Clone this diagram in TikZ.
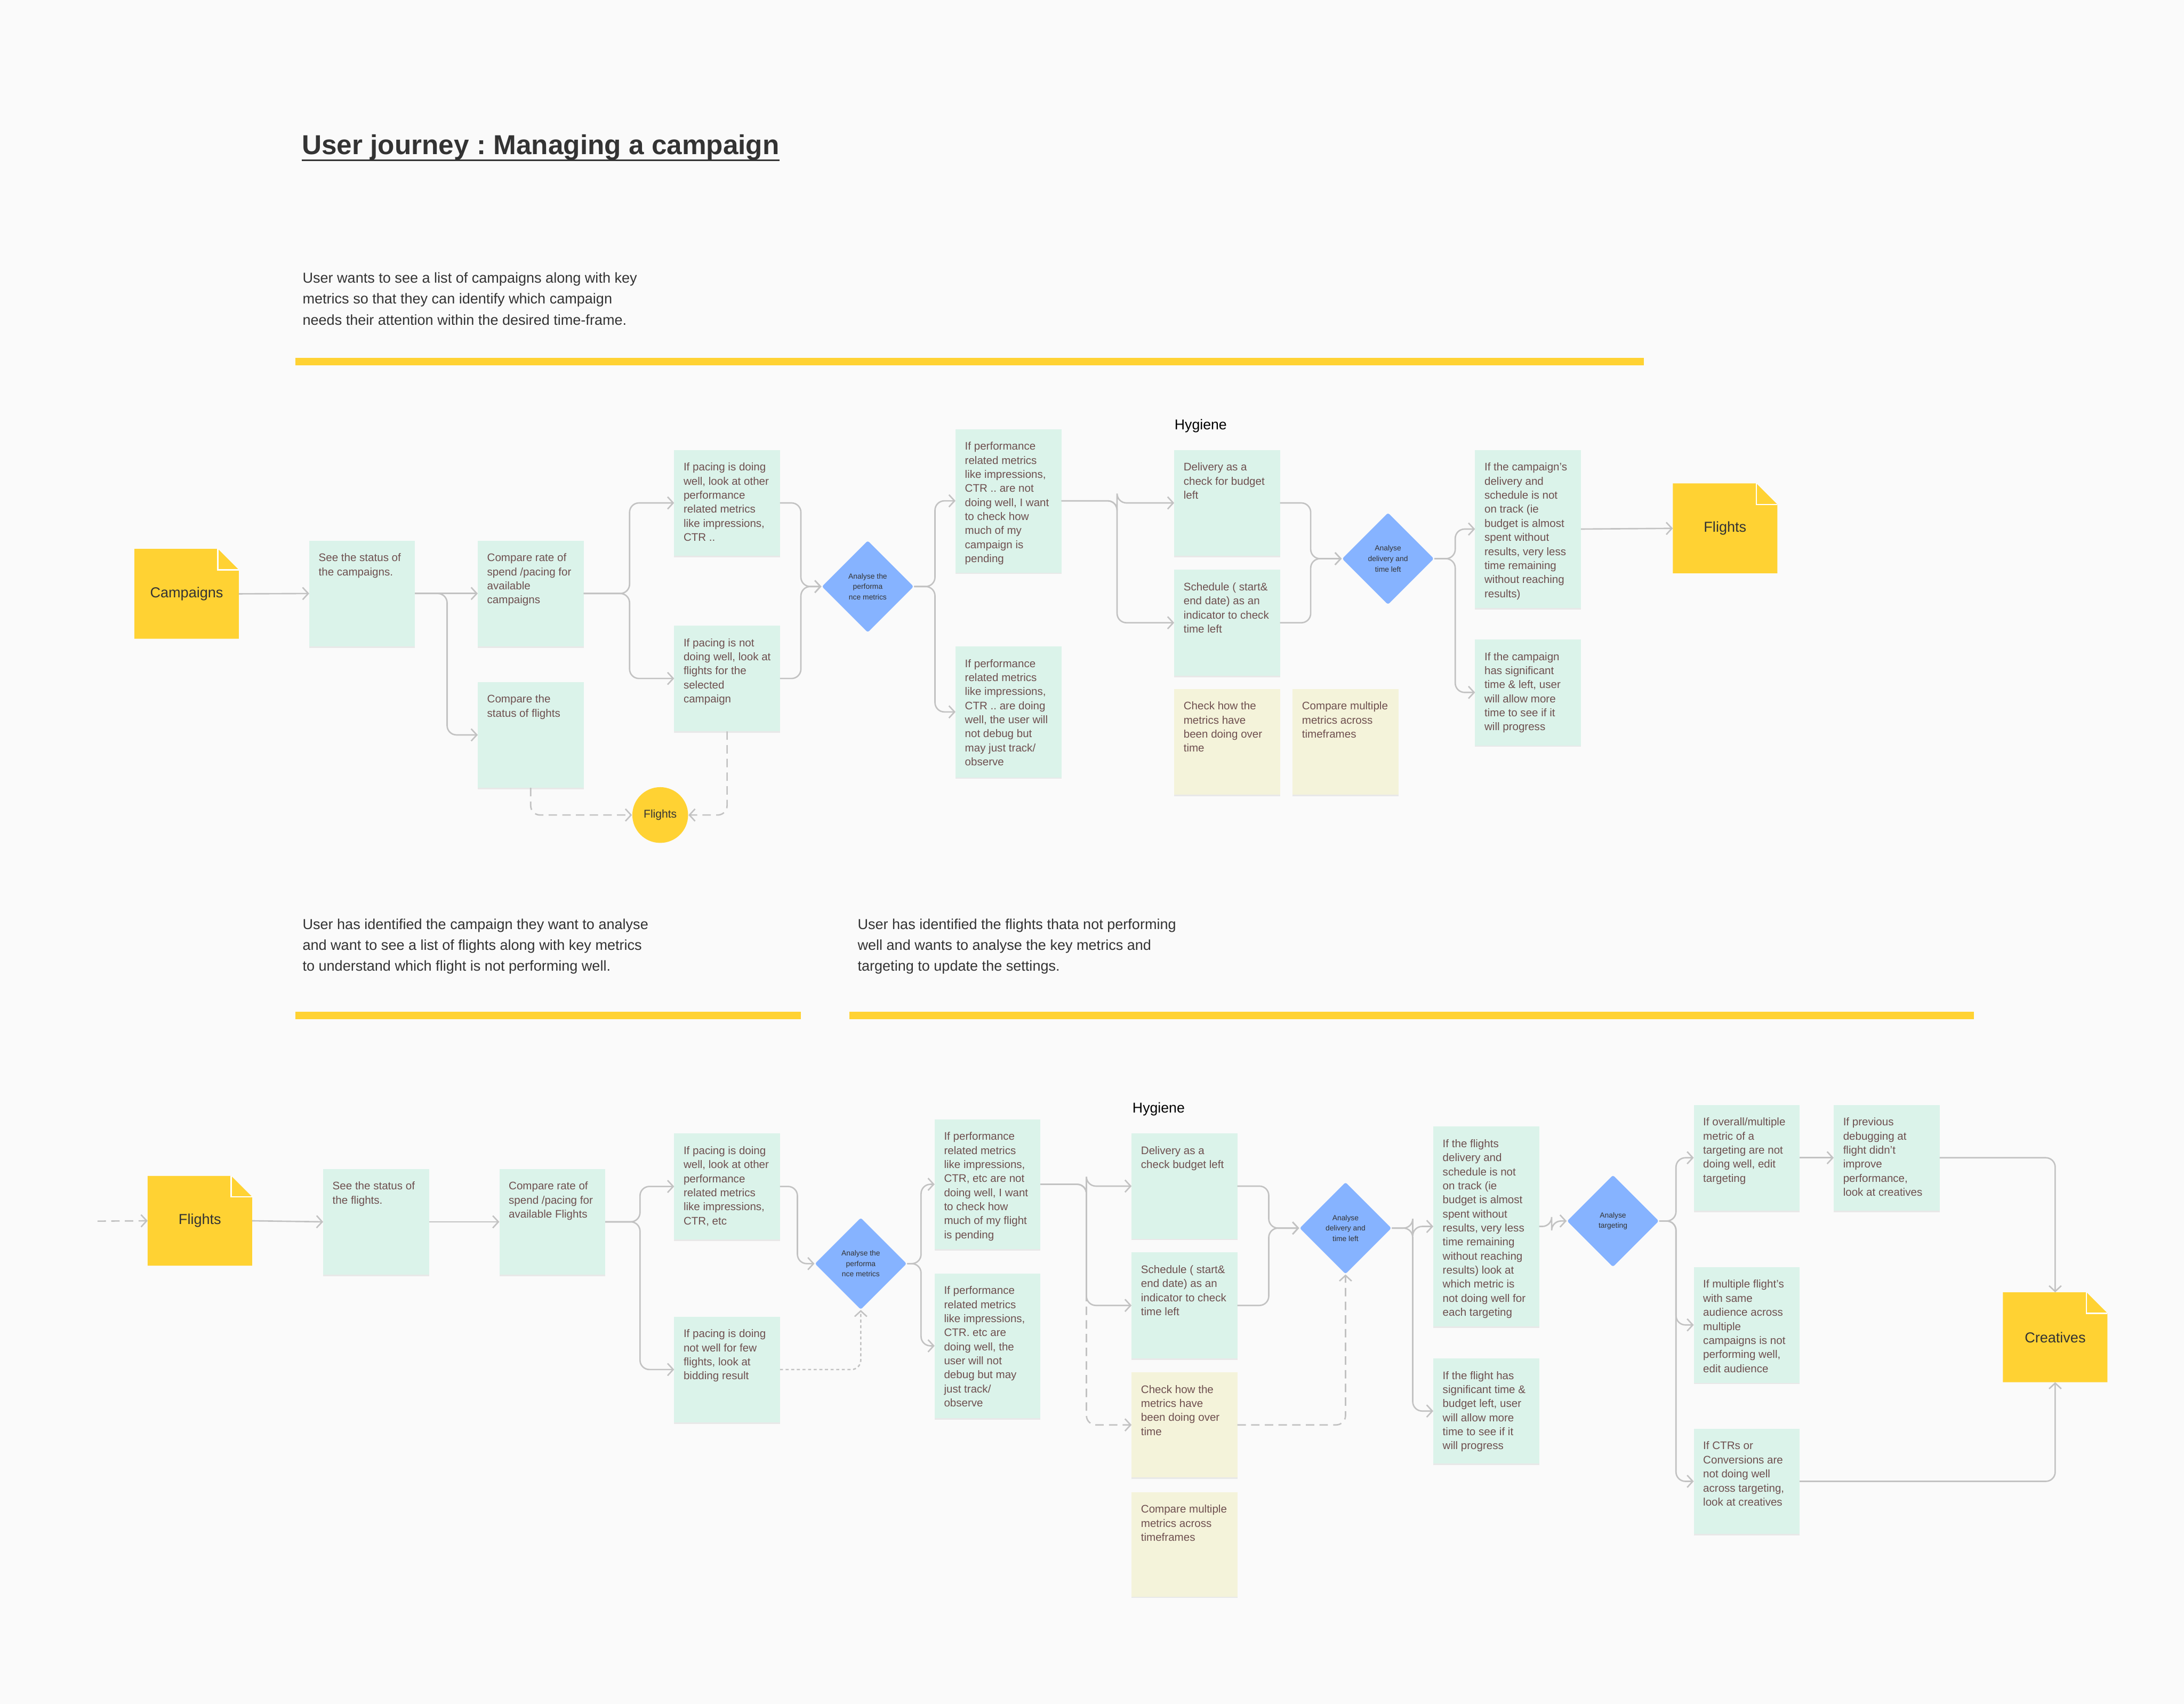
\documentclass[tikz,border=0pt]{standalone}
\usepackage{fontspec}
\setmainfont{Liberation Sans}
\usepackage{xcolor}
\usetikzlibrary{arrows.meta, shapes.geometric, shadows, positioning, calc}

\definecolor{pagebg}{HTML}{FAFAFA}
\definecolor{stickygreen}{HTML}{DBF3EA}
\definecolor{stickycream}{HTML}{F4F3DA}
\definecolor{docyellow}{HTML}{FFD233}
\definecolor{diamondblue}{HTML}{86B3FF}
\definecolor{notetext}{HTML}{6E4F4F}
\definecolor{ink}{HTML}{333333}
\definecolor{wire}{HTML}{C2C2C2}

\newcommand{\px}{0.7432pt}
\newcommand{\notesize}{\fontsize{5.85}{7.5}\selectfont}
\newcommand{\blurbsize}{\fontsize{7.7}{11.15}\selectfont}
\newcommand{\hygsize}{\fontsize{7.6}{9}\selectfont}
\newcommand{\docsize}{\fontsize{7.7}{9}\selectfont}
\newcommand{\diasize}{\fontsize{3.95}{5.6}\selectfont}
\newcommand{\titlesize}{\fontsize{14.6}{17}\selectfont\bfseries}

% sticky note: [style]{name}{x}{y}{height}{text}
\newcommand{\sticky}[6][sticky]{%
  \node[#1, minimum height=#5*\px] (#2) at (#3,#4) {};
  \node[stickytxt] (#2-txt) at ([shift={(6.5,9)}]#2.north west) {#6};}

\begin{document}
\frenchspacing
\begin{tikzpicture}[x=0.026122cm, y=-0.026122cm,
  sticky/.style={anchor=north west, fill=stickygreen, minimum width=76*\px, inner sep=0pt, outer sep=0pt,
                 drop shadow={shadow xshift=0pt, shadow yshift=-0.8pt, opacity=0.14}},
  cream/.style={sticky, fill=stickycream},
  stickytxt/.style={anchor=north west, inner sep=0pt, align=left, text=notetext, font=\notesize},
  docnode/.style={anchor=north west, minimum width=75*\px, minimum height=64.5*\px, inner sep=0pt, outer sep=0pt,
    fill=pagebg, text=ink, font=\docsize,
    path picture={
      \fill[docyellow] (path picture bounding box.south west)
        -- (path picture bounding box.north west)
        -- ([xshift=-11.2pt]path picture bounding box.north east)
        -- ([yshift=-11.2pt]path picture bounding box.north east)
        -- (path picture bounding box.south east) -- cycle;
      \filldraw[fill=docyellow, draw=white, line width=0.7pt]
        ([xshift=-11.2pt]path picture bounding box.north east)
        -- ([xshift=-11.2pt, yshift=-11.2pt]path picture bounding box.north east)
        -- ([yshift=-11.2pt]path picture bounding box.north east);
    }},
  decision/.style={diamond, aspect=1, fill=diamondblue, minimum width=66*\px, minimum height=66*\px,
                   inner sep=0pt, rounded corners=1pt, align=center, text=ink, font=\diasize},
  bubble/.style={circle, fill=docyellow, minimum size=40*\px, inner sep=0pt, text=ink, font=\fontsize{6}{7}\selectfont},
  wireline/.style={draw=wire, line width=0.75pt, rounded corners=5pt, -{Straight Barb[length=3pt, width=6.5pt]}},
  dashwire/.style={wireline, dash pattern=on 4.5pt off 2.8pt},
  dotwire/.style={wireline, dash pattern=on 1.6pt off 1.4pt},
  band/.style={draw=docyellow, line width=3.8pt},
  blurb/.style={anchor=north west, inner sep=0pt, align=left, text=ink, font=\blurbsize},
  hygiene/.style={anchor=base west, inner sep=0pt, text=black, font=\hygsize}]

  % Backdrop
  \fill[pagebg] (0,0) rectangle (1568,1223);
  \useasboundingbox (0,0) rectangle (1568,1223);

  % Title and first intro
  \node[anchor=base west, inner sep=0pt, text=ink, font=\titlesize] (title) at (216.5,111) {User journey : Managing a campaign};
  \draw[ink, line width=0.95pt] ([yshift=-3pt]title.base west) -- ([yshift=-3pt]title.base east);
  \node[blurb] (intro1) at (217,195.4) {User wants to see a list of campaigns along with key\\metrics so that they can identify which campaign\\needs their attention within the desired time-frame.};
  \draw[band] (212,259.5) -- (1180,259.5);

  % Campaign row
  \node[docnode] (camp) at (96.5,394) {Campaigns};
  \sticky{seec}{222}{388}{76}{See the status of\\the campaigns.}
  \sticky{cmprate}{343}{388}{76}{Compare rate of\\spend /pacing for\\available\\campaigns}
  \sticky{cmpfl}{343}{489.5}{76}{Compare the\\status of flights}
  \sticky{pw}{484}{323}{76}{If pacing is doing\\well, look at other\\performance\\related metrics\\like impressions,\\CTR ..}
  \sticky{pn}{484}{449}{76}{If pacing is not\\doing well, look at\\flights for the\\selected\\campaign}
  \node[decision] (dperf) at (623,421) {Analyse the\\performa\\nce metrics};
  \node[bubble] (fcirc) at (474,585) {Flights};
  \sticky{pfbad}{686}{308}{103}{If performance\\related metrics\\like impressions,\\CTR .. are not\\doing well, I want\\to check how\\much of my\\campaign is\\pending}
  \sticky{pfgood}{686}{464}{94}{If performance\\related metrics\\like impressions,\\CTR .. are doing\\well, the user will\\not debug but\\may just track/\\observe}
  \node[hygiene] (hyg1) at (843,308.2) {Hygiene};
  \sticky{deliv}{843}{323}{76}{Delivery as a\\check for budget\\left}
  \sticky{sched}{843}{409}{76}{Schedule ( start\&\\end date) as an\\indicator to check\\time left}
  \sticky[cream]{chk}{843}{494.5}{76}{Check how the\\metrics have\\been doing over\\time}
  \sticky[cream]{cmpm}{928}{494.5}{76}{Compare multiple\\metrics across\\timeframes}
  \node[decision] (ddel) at (996.5,401) {Analyse\\delivery and\\time left};
  \sticky{cnb}{1059}{323}{113.5}{If the campaign’s\\delivery and\\schedule is not\\on track (ie\\budget is almost\\spent without\\results, very less\\time remaining\\without reaching\\results)}
  \sticky{cns}{1059}{459}{76}{If the campaign\\has significant\\time \& left, user\\will allow more\\time to see if it\\will progress}
  \node[docnode] (fltop) at (1201,347) {Flights};

  % Campaign row connectors
  \draw[wireline] (camp.east) -- (seec.west);
  \draw[wireline] (seec.east) -- (cmprate.west);
  \draw[wireline] (seec.east) -- ++(23,0) |- (cmpfl.west);
  \foreach \n in {pw,pn} \draw[wireline] (cmprate.east) -- ++(33,0) |- (\n.west);
  \foreach \n in {pw,pn} \draw[wireline] (\n.east) -- ++(15,0) |- (dperf.west);
  \foreach \n in {pfbad,pfgood} \draw[wireline] (dperf.east) -- ++(15,0) |- (\n.west);
  \foreach \n in {deliv,sched} \draw[wireline] (pfbad.east) -- ++(40,0) |- (\n.west);
  \foreach \n in {deliv,sched} \draw[wireline] (\n.east) -- ++(22,0) |- (ddel.west);
  \foreach \n in {cnb,cns} \draw[wireline] (ddel.east) -- ++(15,0) |- (\n.west);
  \draw[wireline] (cnb.east) -- (fltop.west);
  \draw[dashwire] (cmpfl.south) |- (fcirc.west);
  \draw[dashwire] (pn.south) |- (fcirc.east);

  % Second and third intros
  \node[blurb] (intro2) at (217,659.2) {User has identified the campaign they want to analyse\\and want to see a list of flights along with key metrics\\to understand which flight is not performing well.};
  \node[blurb] (intro3) at (615.5,659.2) {User has identified the flights thata not performing\\well and wants to analyse the key metrics and\\targeting to update the settings.};
  \draw[band] (212,728.9) -- (575,728.9);
  \draw[band] (610,728.9) -- (1417,728.9);

  % Flight row
  \coordinate (fltail) at (70,876.5);
  \node[docnode] (flbot) at (106,844) {Flights};
  \sticky{seef}{232}{839}{76}{See the status of\\the flights.}
  \sticky{cmpf}{358.5}{839}{76}{Compare rate of\\spend /pacing for\\available Flights}
  \sticky{bpw}{484}{813.6}{76}{If pacing is doing\\well, look at other\\performance\\related metrics\\like impressions,\\CTR, etc}
  \sticky{bpn}{484}{945}{76}{If pacing is doing\\not well for few\\flights, look at\\bidding result}
  \node[decision] (bdperf) at (618,907) {Analyse the\\performa\\nce metrics};
  \sticky{bpfbad}{671}{803.4}{93.3}{If performance\\related metrics\\like impressions,\\CTR, etc are not\\doing well, I want\\to check how\\much of my flight\\is pending}
  \sticky{bpfgood}{671}{914}{104}{If performance\\related metrics\\like impressions,\\CTR. etc are\\doing well, the\\user will not\\debug but may\\just track/\\observe}
  \node[hygiene] (hyg2) at (812.8,798.7) {Hygiene};
  \sticky{bdeliv}{812.4}{813.6}{75.5}{Delivery as a\\check budget left}
  \sticky{bsched}{812.4}{899}{76}{Schedule ( start\&\\end date) as an\\indicator to check\\time left}
  \sticky[cream]{bchk}{812.4}{985}{75.5}{Check how the\\metrics have\\been doing over\\time}
  \sticky[cream]{bcmpm}{812.4}{1071}{75}{Compare multiple\\metrics across\\timeframes}
  \node[decision] (bddel) at (966,881.5) {Analyse\\delivery and\\time left};
  \sticky{bfd}{1029}{808.6}{143.4}{If the flights\\delivery and\\schedule is not\\on track (ie\\budget is almost\\spent without\\results, very less\\time remaining\\without reaching\\results) look at\\which metric is\\not doing well for\\each targeting}
  \sticky{bfs}{1029}{975}{75.6}{If the flight has\\significant time \&\\budget left, user\\will allow more\\time to see if it\\will progress}
  \node[decision] (dtarg) at (1158,876.4) {Analyse\\targeting};
  \sticky{ov}{1216}{793}{76}{If overall/multiple\\metric of a\\targeting are not\\doing well, edit\\targeting}
  \sticky{prev}{1316.5}{793}{76}{If previous\\debugging at\\flight didn’t\\improve\\performance,\\look at creatives}
  \sticky{mf}{1216}{909.5}{83}{If multiple flight’s\\with same\\audience across\\multiple\\campaigns is not\\performing well,\\edit audience}
  \sticky{ctr}{1216}{1025.5}{75.5}{If CTRs or\\Conversions are\\not doing well\\across targeting,\\look at creatives}
  \node[docnode] (creat) at (1438,927.6) {Creatives};

  % Flight row connectors
  \draw[dashwire] (fltail) -- (flbot.west);
  \draw[wireline] (flbot.east) -- (seef.west);
  \draw[wireline] (seef.east) -- (cmpf.west);
  \foreach \n in {bpw,bpn} \draw[wireline] (cmpf.east) -- ++(25,0) |- (\n.west);
  \draw[wireline] (bpw.east) -- ++(12.5,0) |- (bdperf.west);
  \draw[dotwire] (bpn.east) -| (bdperf.south);
  \foreach \n in {bpfbad,bpfgood} \draw[wireline] (bdperf.east) -- ++(10,0) |- (\n.west);
  \foreach \n in {bdeliv,bsched} \draw[wireline] (bpfbad.east) -- ++(33,0) |- (\n.west);
  \draw[dashwire] (bpfbad.east) -- ++(33,0) |- (bchk.west);
  \foreach \n in {bdeliv,bsched} \draw[wireline] (\n.east) -- ++(22.5,0) |- (bddel.west);
  \draw[dashwire] (bchk.east) -| (bddel.south);
  \foreach \n in {bfd,bfs} \draw[wireline] (bddel.east) -- ++(15,0) |- (\n.west);
  \draw[wireline] (bfd.east) -- ++(9,0) |- (dtarg.west);
  \foreach \n in {ov,mf,ctr} \draw[wireline] (dtarg.east) -- ++(12,0) |- (\n.west);
  \draw[wireline] (ov.east) -- (prev.west);
  \draw[wireline] (prev.east) -| (creat.north);
  \draw[wireline] (ctr.east) -| (creat.south);
\end{tikzpicture}
\end{document}
